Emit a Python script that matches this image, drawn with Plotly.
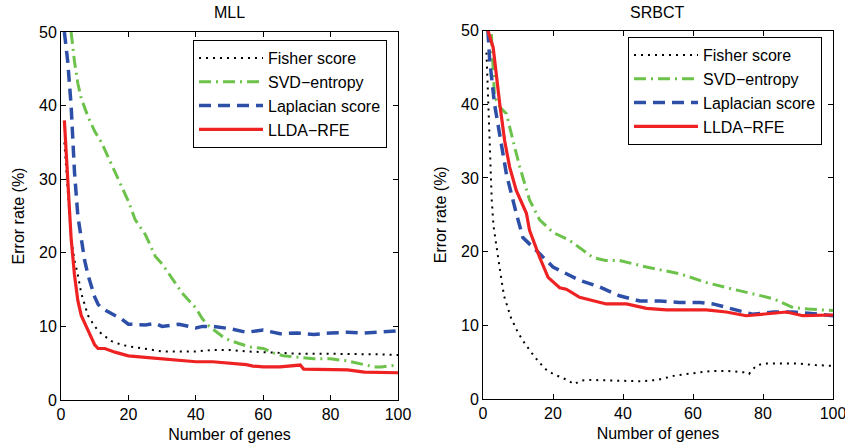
import plotly.graph_objects as go

# ---------------- MLL data ----------------
mll_fisher_x = [1, 2, 3, 4, 5, 6, 7, 8, 10, 12, 15, 18, 20, 25, 30, 35, 40, 45, 50, 55, 60, 65, 70, 75, 80, 85, 90, 95, 100]
mll_fisher_y = [35, 28, 22, 19, 17, 14.5, 13, 11.5, 10, 9, 8, 7.5, 7.3, 7, 6.6, 6.6, 6.6, 6.8, 6.8, 6.6, 6.5, 6.3, 6.3, 6.3, 6.3, 6.3, 6.2, 6.2, 6.1]

mll_svd_x = [3, 4, 5, 6, 8, 10, 12, 15, 18, 20, 22, 25, 28, 30, 33, 36, 40, 42, 44, 46, 48, 50, 53, 56, 60, 63, 66, 70, 75, 80, 85, 90, 93, 95, 100]
mll_svd_y = [50, 46, 43, 41, 38.5, 36.5, 35, 32, 29, 27, 24.5, 22.5, 19.5, 18.5, 16.5, 14.5, 12.5, 11, 10, 9.3, 8.6, 8.1, 7.6, 7.2, 7, 6.4, 6.0, 5.8, 5.6, 5.6, 5.3, 4.8, 4.5, 4.5, 4.75]

mll_lap_x = [1, 2, 3, 4, 5, 6, 7, 8, 9, 10, 11, 12, 14, 16, 18, 20, 25, 28, 30, 35, 40, 42, 45, 50, 55, 60, 65, 70, 75, 80, 85, 90, 95, 100]
mll_lap_y = [50, 46, 40, 31, 25, 22, 19, 17, 15.5, 14, 13, 12.5, 12, 11.5, 11, 10.3, 10.2, 10.4, 10, 10.3, 9.8, 10, 10, 9.7, 9.2, 9.5, 9.0, 9.1, 8.9, 9.1, 9.2, 9.1, 9.2, 9.4]

mll_llda_x = [1, 2, 3, 4, 5, 6, 7, 8, 9, 10, 11, 13, 16, 20, 25, 30, 35, 40, 45, 50, 55, 57, 60, 65, 70, 71, 72, 80, 85, 90, 95, 100]
mll_llda_y = [38, 30, 22, 17, 13.5, 11.5, 10.5, 9.5, 8.5, 7.5, 7, 7, 6.5, 6, 5.8, 5.6, 5.5, 5.2, 5.2, 5, 4.8, 4.6, 4.5, 4.5, 4.7, 4.75, 4.2, 4.2, 4.1, 3.8, 3.75, 3.7]

# ---------------- SRBCT data ----------------
srb_fisher_x = [1, 1.5, 2, 2.5, 3, 4, 5, 6, 7, 8, 10, 12, 14, 16, 18, 20, 22, 24, 26, 28, 30, 35, 40, 45, 50, 55, 60, 65, 70, 75, 76, 78, 80, 85, 90, 95, 100]
srb_fisher_y = [47, 40, 33, 27, 23.5, 20, 17, 14, 12.5, 11, 9, 7.5, 6.2, 5, 4, 3.4, 3, 2.6, 2.0, 2.5, 2.6, 2.5, 2.5, 2.4, 2.6, 3.2, 3.5, 3.8, 3.8, 3.6, 3.4, 4.5, 4.8, 4.8, 4.8, 4.6, 4.5]

srb_svd_x = [2.4, 3.3, 5, 6.7, 8.6, 10.5, 13.3, 16.2, 20, 24.8, 31.4, 35, 39, 46.7, 56.2, 63.8, 71.4, 77, 83, 88.6, 93, 100]
srb_svd_y = [49.5, 41, 39.5, 38.7, 35, 31.5, 27, 24.3, 22.6, 21.5, 19.2, 18.8, 18.8, 17.9, 17, 15.8, 14.9, 14.3, 13.6, 12.4, 12.2, 12.0]

srb_lap_x = [1.4, 1.9, 3.3, 4.8, 6.7, 9.5, 11.4, 16.2, 20, 27.6, 33.3, 39, 44.8, 50.5, 56.2, 62, 65.7, 71.4, 77, 83, 88.6, 96, 100]
srb_lap_y = [50, 46, 40, 36, 30.5, 25.2, 21.9, 19.7, 17.9, 16.1, 15.2, 14, 13.3, 13.3, 13.1, 13.1, 12.9, 12.2, 11.5, 11.8, 11.8, 11.5, 11.3]

srb_llda_x = [1.4, 2.9, 4.8, 6.2, 7.6, 9.5, 12.4, 13.3, 16.2, 18.6, 21.9, 23.8, 27.6, 31.4, 35.2, 41, 46.7, 52.4, 58, 63.8, 69.5, 75.2, 82, 86.7, 91.4, 100]
srb_llda_y = [50, 47.7, 40, 35, 31.5, 28.3, 25.2, 22.9, 19.2, 16.5, 15.1, 14.9, 13.8, 13.3, 12.9, 12.9, 12.3, 12.1, 12.1, 12.1, 11.8, 11.3, 11.6, 11.8, 11.3, 11.4]

x_ticks = [0, 20, 40, 60, 80, 100]
y_ticks = [0, 10, 20, 30, 40, 50]
titles = ["MLL", "SRBCT"]
names = ["Fisher score", "SVD\u2212entropy", "Laplacian score", "LLDA\u2212RFE"]

styles = [
    dict(color="black", width=2, dash="2px,5px"),
    dict(color="#6cc24a", width=3, dash="12px,5px,2px,5px"),
    dict(color="#2e4fa8", width=3.5, dash="12px,7px"),
    dict(color="#ee2222", width=3.2, dash="solid"),
]

FONT = "Liberation Sans, Arial, sans-serif"
FS = 16
fig = go.Figure()

panels = [
    [(mll_fisher_x, mll_fisher_y), (mll_svd_x, mll_svd_y), (mll_lap_x, mll_lap_y), (mll_llda_x, mll_llda_y)],
    [(srb_fisher_x, srb_fisher_y), (srb_svd_x, srb_svd_y), (srb_lap_x, srb_lap_y), (srb_llda_x, srb_llda_y)],
]

for p, series in enumerate(panels):
    xa = "x" if p == 0 else "x2"
    ya = "y" if p == 0 else "y2"
    lg = "legend" if p == 0 else "legend2"
    for i, (xs, ys) in enumerate(series):
        fig.add_trace(go.Scatter(x=xs, y=ys, mode="lines", name=names[i], line=styles[i],
                                 xaxis=xa, yaxis=ya, legend=lg, cliponaxis=True))

axis_common = dict(showline=True, linecolor="black", linewidth=1, mirror="allticks",
                   ticks="inside", ticklen=5, tickcolor="black", showgrid=False, zeroline=False,
                   automargin=False, ticklabeloverflow="allow",
                   tickfont=dict(family=FONT, size=FS, color="black"))

xtitle = dict(text="Number of genes", font=dict(size=FS), standoff=6)
ytitle = dict(text="Error rate (%)", font=dict(size=FS), standoff=10)

legend_common = dict(xanchor="left", yanchor="top", bgcolor="white", bordercolor="black",
                     borderwidth=1, font=dict(family=FONT, size=FS), tracegroupgap=0, itemwidth=64)

fig.update_layout(
    width=845, height=448,
    margin=dict(l=0, r=0, t=0, b=0, autoexpand=False),
    paper_bgcolor="white", plot_bgcolor="white",
    font=dict(family=FONT, color="black"),
    xaxis=dict(domain=[61/845, 398/845], range=[0, 100], tickvals=x_ticks, anchor="y",
               title=xtitle, **axis_common),
    yaxis=dict(domain=[1-400/448, 1-32/448], range=[0, 50], tickvals=y_ticks, anchor="x",
               title=ytitle, **axis_common),
    xaxis2=dict(domain=[483/845, 833/845], range=[0, 100], tickvals=x_ticks, anchor="y2",
                title=xtitle, **axis_common),
    yaxis2=dict(domain=[1-399/448, 1-30.5/448], range=[0, 50], tickvals=y_ticks, anchor="x2",
                title=ytitle, **axis_common),
    legend=dict(x=193/845, y=1-40/448, **legend_common),
    legend2=dict(x=628/845, y=1-37/448, **legend_common),
    annotations=[
        dict(text=titles[0], x=229/845, y=1-13/448, xref="paper", yref="paper", showarrow=False,
             font=dict(family=FONT, size=FS), xanchor="center", yanchor="middle"),
        dict(text=titles[1], x=657/845, y=1-13/448, xref="paper", yref="paper", showarrow=False,
             font=dict(family=FONT, size=FS), xanchor="center", yanchor="middle"),
    ],
)

fig.write_html("out.html", config={"displayModeBar": False},
               post_script="document.body.style.margin='0px';document.body.style.overflow='hidden';")
